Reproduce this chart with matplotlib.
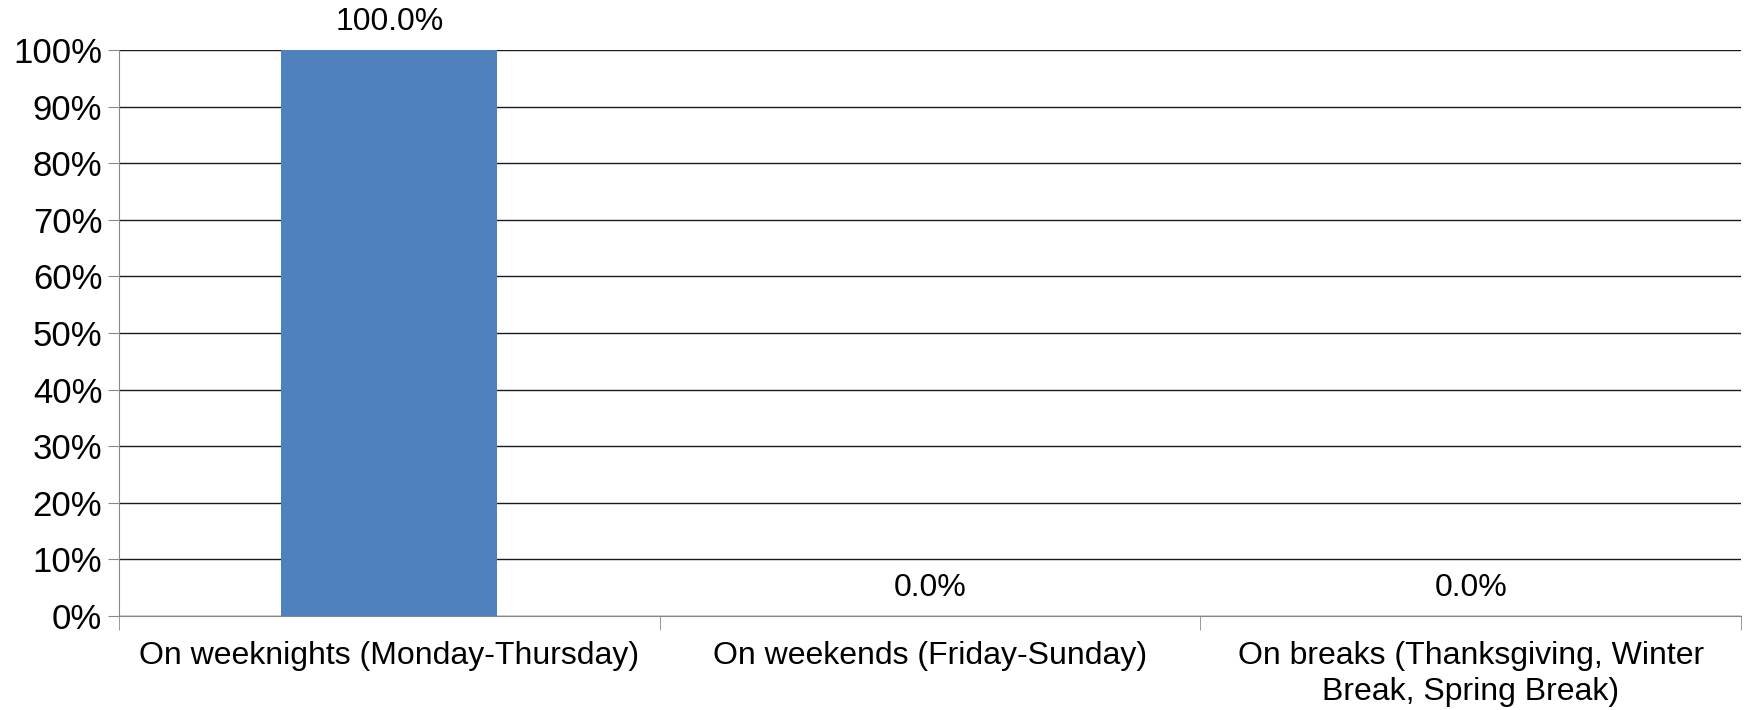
import matplotlib
matplotlib.use("Agg")
import matplotlib.pyplot as plt
from matplotlib.ticker import FixedLocator, PercentFormatter

categories = ["On weeknights (Monday-Thursday)",
              "On weekends (Friday-Sunday)",
              "On breaks (Thanksgiving, Winter\nBreak, Spring Break)"]
values = [100.0, 0.0, 0.0]
yticks = list(range(0, 101, 10))

plt.rcParams['font.family'] = ['Liberation Sans', 'DejaVu Sans']

fig = plt.figure(figsize=(17.5, 7.1), dpi=100)
ax = fig.add_axes([119 / 1750, 1 - 616 / 710, (1741 - 119) / 1750, (616 - 50) / 710])

x = list(range(len(categories)))
ax.bar(x, values, width=0.4, color="#4f81bd", zorder=3)

for xi, v in zip(x, values):
    ax.annotate(f"{v:.1f}%", (xi, v), xytext=(0, 9), textcoords="offset points",
                ha="center", va="bottom", fontsize=23)

ax.set_xlim(-0.5, len(categories) - 0.5)
ax.set_ylim(0, 100)
ax.set_yticks(yticks)
ax.yaxis.set_major_formatter(PercentFormatter(decimals=0))
ax.grid(axis="y", color="#1a1a1a", linewidth=1.0, zorder=0)

ax.set_xticks(x)
ax.set_xticklabels(categories, fontsize=23, linespacing=1.25)
ax.xaxis.set_minor_locator(FixedLocator([i - 0.5 for i in range(len(categories) + 1)]))
ax.tick_params(axis="x", which="major", length=0, pad=18)
ax.tick_params(axis="x", which="minor", length=10, color="#888888")
ax.tick_params(axis="y", length=8, color="#888888", labelsize=25, pad=4)

for side in ["top", "right"]:
    ax.spines[side].set_visible(False)
ax.spines["left"].set_color("#888888")
ax.spines["bottom"].set_color("#888888")

fig.savefig("out.png", dpi=100)
